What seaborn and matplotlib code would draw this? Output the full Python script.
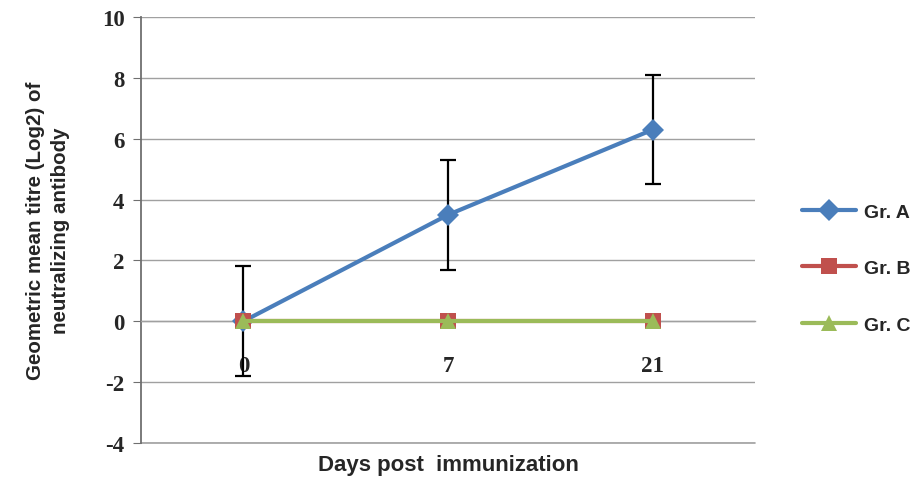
import numpy as np
import pandas as pd
import matplotlib
matplotlib.use('Agg')
import matplotlib.pyplot as plt
import seaborn as sns
from matplotlib.ticker import MultipleLocator, FixedLocator

# ── Data ──
days = ['0', '7', '21']
groups = ['Gr. A', 'Gr. B', 'Gr. C']
gr_a = [0.0, 3.5, 6.3]
gr_a_err = [1.8, 1.8, 1.8]
gr_b = [0.0, 0.0, 0.0]
gr_c = [0.0, 0.0, 0.0]

colors = {'Gr. A': '#4A7EBB', 'Gr. B': '#C0504D', 'Gr. C': '#9BBB59'}
markers = {'Gr. A': 'D', 'Gr. B': 's', 'Gr. C': '^'}

pos = np.arange(len(days))
df = pd.DataFrame({
    'pos': np.tile(pos, 3),
    'value': gr_a + gr_b + gr_c,
    'group': np.repeat(groups, len(days)),
})

sns.set_style('white')
plt.rcParams['axes.unicode_minus'] = False
fig, ax = plt.subplots(figsize=(9.1, 4.81), dpi=100)
fig.subplots_adjust(left=0.155, right=0.830, top=0.9626, bottom=0.077)

# error bars for Gr. A (drawn under the B/C markers)
ax.errorbar(pos, gr_a, yerr=gr_a_err, fmt='none', ecolor='black',
            elinewidth=1.6, capsize=6, capthick=1.6, zorder=2.5)

sns.lineplot(data=df, x='pos', y='value', hue='group', style='group',
             palette=colors, markers=markers, dashes=False, linewidth=3,
             markersize=11, markeredgewidth=0, ax=ax, zorder=3, legend=True)

# axes styling (Excel look)
ax.set_xlim(-0.5, 2.5)
ax.set_ylim(-4, 10)
ax.yaxis.set_major_locator(MultipleLocator(2))
ax.grid(axis='y', color='#A0A0A0', linewidth=1)
ax.set_axisbelow(True)
ax.axhline(-4, color='#A0A0A0', linewidth=1.2, clip_on=False, zorder=0)
for s in ['top', 'right']:
    ax.spines[s].set_visible(False)
ax.spines['left'].set_color('#6F6F6F')
ax.spines['left'].set_linewidth(1.3)
ax.spines['bottom'].set_position(('data', 0))
ax.spines['bottom'].set_color('#A0A0A0')
ax.spines['bottom'].set_linewidth(1)

ax.set_xticks(pos)
ax.set_xticklabels(days)
ax.xaxis.set_minor_locator(FixedLocator([0.5, 1.5, 2.5]))
ax.tick_params(axis='x', which='major', length=0, pad=24)
ax.tick_params(axis='x', which='minor', length=5, color='#A0A0A0', direction='out')
ax.tick_params(axis='y', length=6, color='#6F6F6F', direction='out', left=True, pad=6)

for lab in ax.get_xticklabels() + ax.get_yticklabels():
    lab.set_fontfamily('Liberation Serif')
    lab.set_fontweight('bold')
    lab.set_fontsize(16.5)

ax.set_xlabel('Days post  immunization', fontsize=16, fontweight='bold',
              fontfamily='Liberation Sans')
ax.xaxis.set_label_coords(0.5, -0.025)
ax.set_ylabel('Geometric mean titre (Log2) of\nneutralizing antibody', fontsize=14.8,
              fontweight='bold', fontfamily='Liberation Sans', linespacing=1.4)
ax.yaxis.set_label_coords(-0.115, 0.5)

handles, labels = ax.get_legend_handles_labels()
ax.legend_.remove()
leg = fig.legend(handles, labels, loc='center left', bbox_to_anchor=(0.862, 0.44),
                 frameon=False, labelspacing=2.0, handlelength=2.8, handletextpad=0.4,
                 prop={'family': 'Liberation Sans', 'weight': 'bold', 'size': 14})
for h in leg.legend_handles:
    h.set_linewidth(3)

fig.savefig('out.png', dpi=100)
